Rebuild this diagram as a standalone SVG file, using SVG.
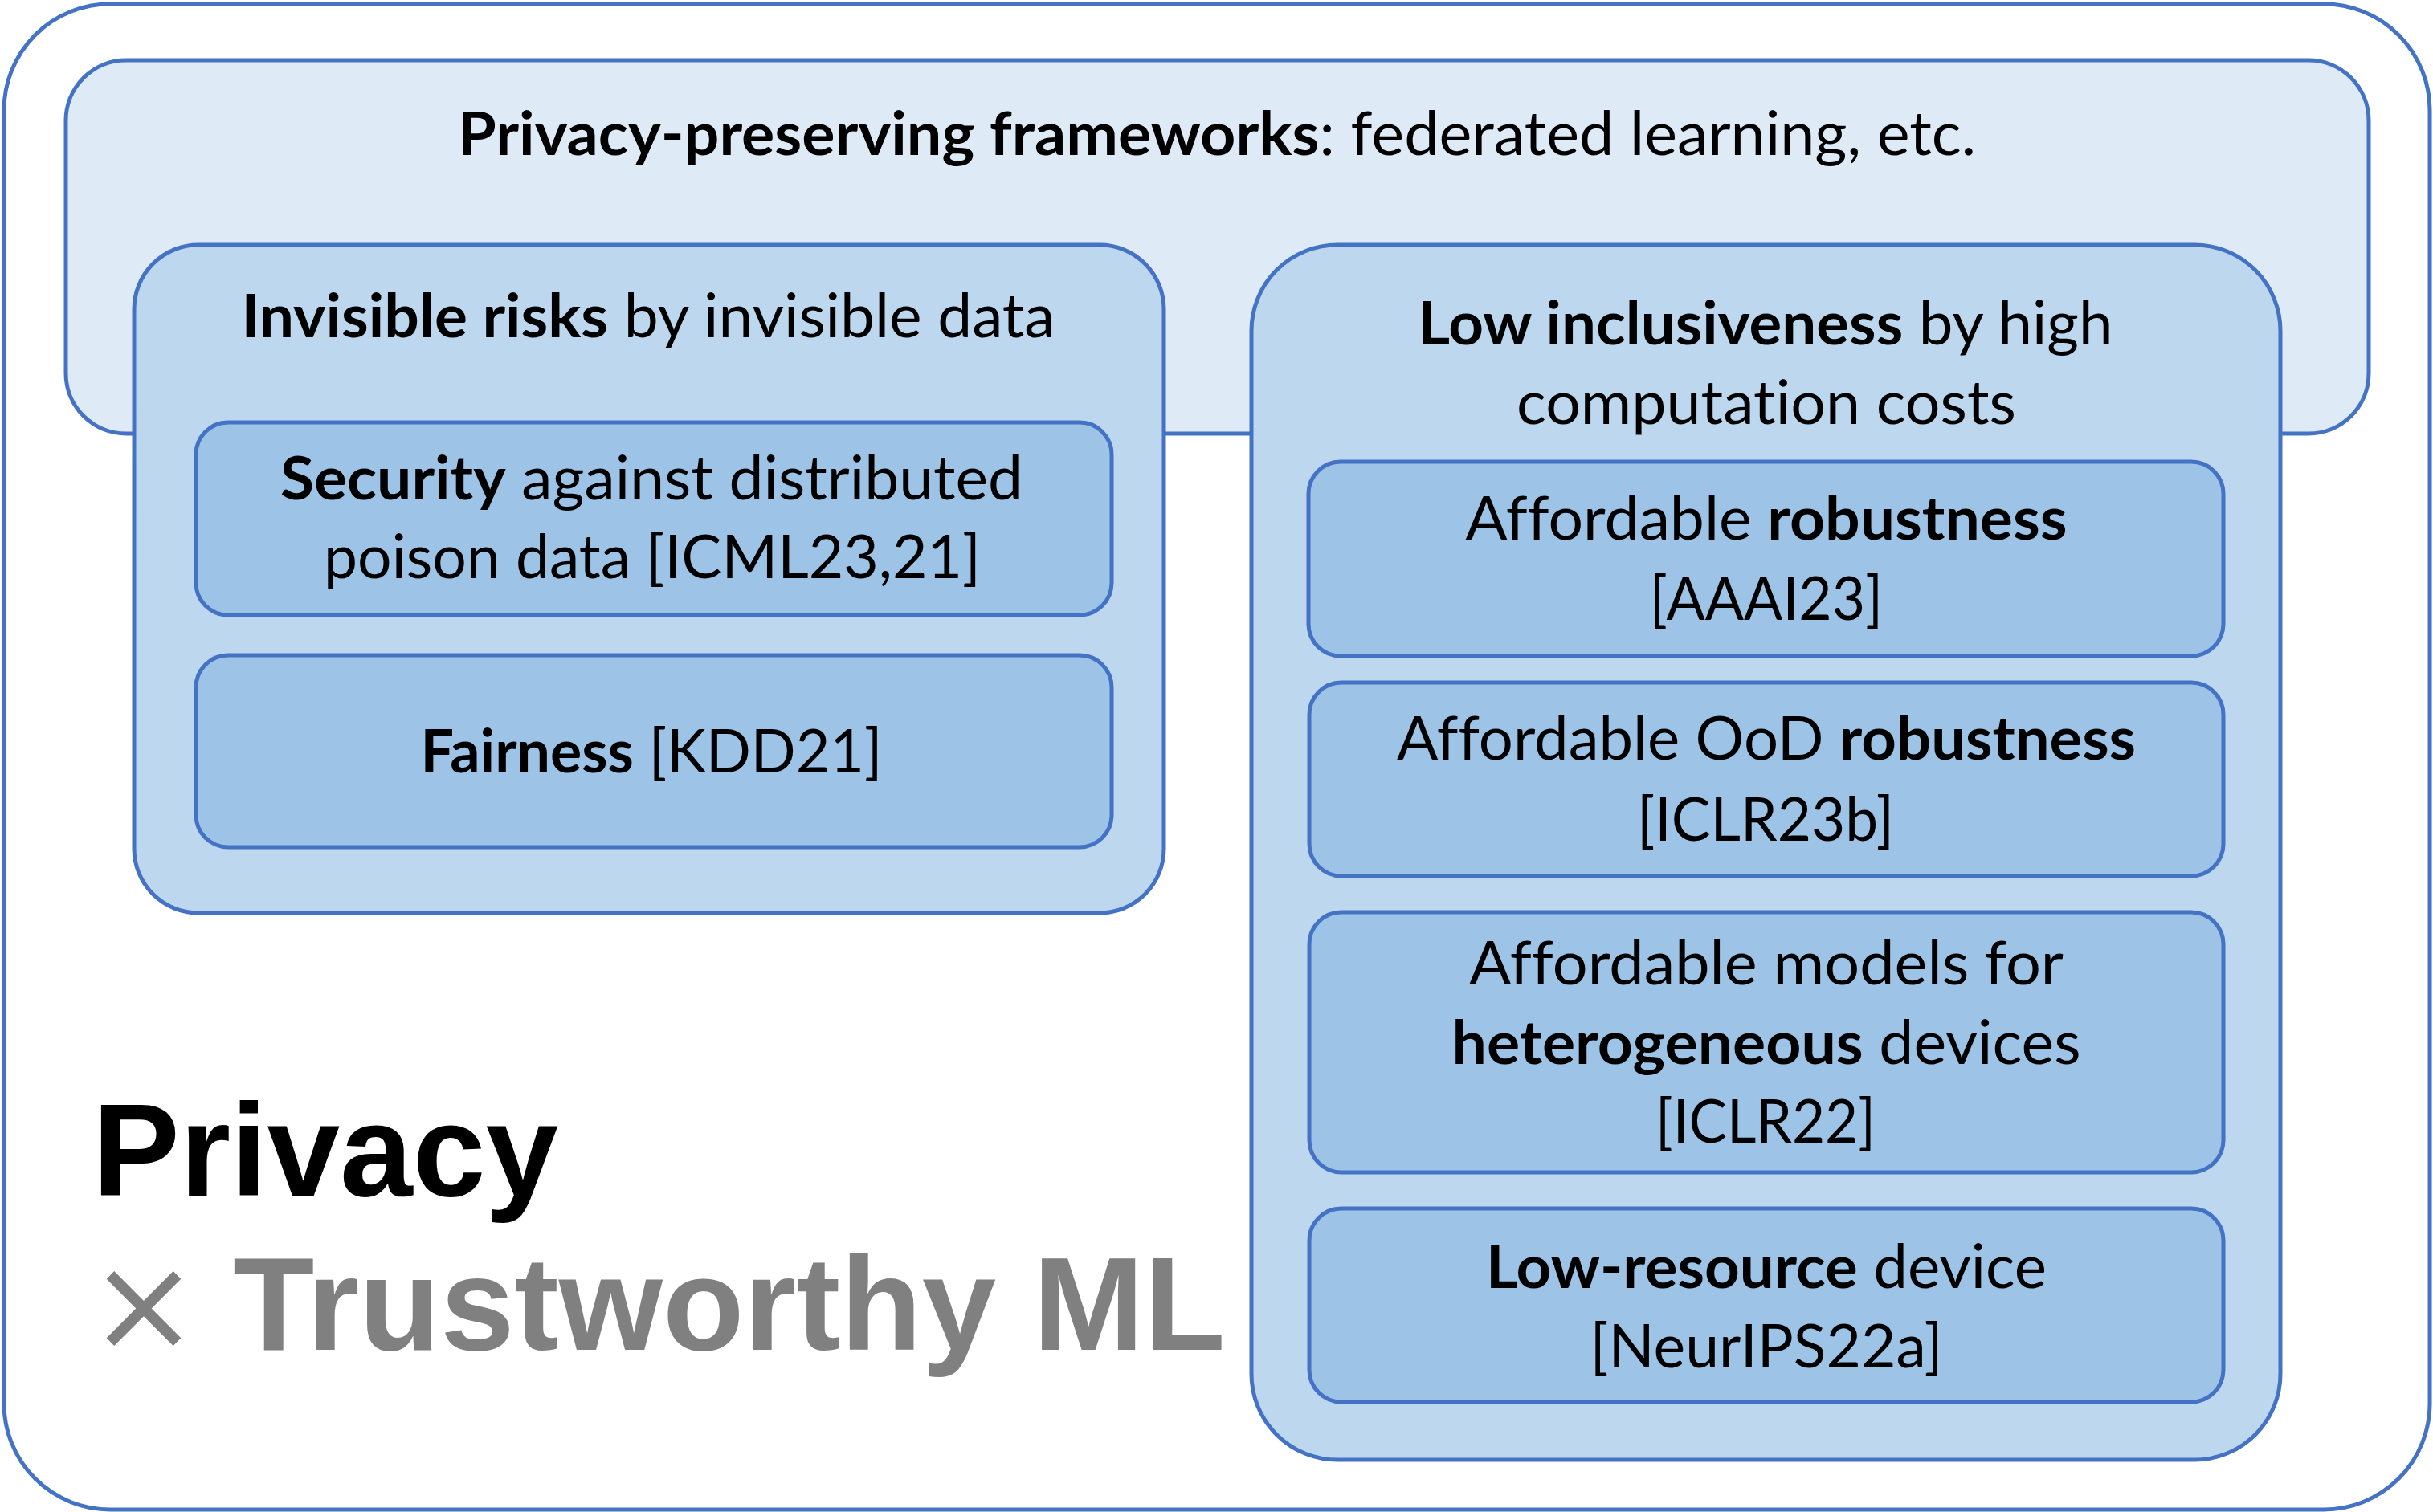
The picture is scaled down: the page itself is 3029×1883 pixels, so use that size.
<svg xmlns="http://www.w3.org/2000/svg" width="3029" height="1883" viewBox="0 0 3029 1883">
<style>
.bx { stroke:#4472C4; stroke-width:5; }
.l0 { fill:#FFFFFF; }
.l1 { fill:#DEEBF7; }
.l2 { fill:#BDD7EE; }
.l3 { fill:#9DC3E6; }
.t { font-family:Lato, "Open Sans", "Liberation Sans", sans-serif; font-size:75px; fill:#000; text-anchor:middle; font-variant-ligatures:none; }
.b { font-weight:bold; }
.big { font-family:"Liberation Sans", Arial, sans-serif; font-weight:bold; font-size:166px; }
</style>
<rect width="3029" height="1883" fill="#FFFFFF"/>
<g id="outer">
  <rect class="bx l0" x="5" y="5" width="3020" height="1875" rx="132" ry="132"/>
</g>
<g id="frameworks">
  <rect class="bx l1" x="82" y="75" width="2867" height="465" rx="75" ry="75"/>
  <text class="t" x="1515" y="193" textLength="1890" lengthAdjust="spacingAndGlyphs"><tspan class="b">Privacy-preserving frameworks</tspan>: federated learning, etc.</text>
</g>
<g id="invisible-risks">
  <rect class="bx l2" x="167" y="305" width="1282" height="832" rx="80" ry="80"/>
  <text class="t" x="807" y="420" textLength="1013" lengthAdjust="spacingAndGlyphs"><tspan class="b">Invisible risks</tspan> by invisible data</text>
</g>
<g id="security">
  <rect class="bx l3" x="244" y="526" width="1140" height="240" rx="40" ry="40"/>
  <text class="t" x="811" y="622" textLength="924" lengthAdjust="spacingAndGlyphs"><tspan class="b">Security</tspan> against distributed</text>
  <text class="t" x="812" y="720" textLength="818" lengthAdjust="spacingAndGlyphs">poison data [ICML23,21]</text>
</g>
<g id="fairness">
  <rect class="bx l3" x="244" y="816" width="1140" height="239" rx="40" ry="40"/>
  <text class="t" x="811" y="962" textLength="575" lengthAdjust="spacingAndGlyphs"><tspan class="b">Fairness</tspan> [KDD21]</text>
</g>
<g id="low-inclusiveness">
  <rect class="bx l2" x="1558" y="305" width="1281" height="1513" rx="107" ry="107"/>
  <text class="t" x="2198" y="429" textLength="865" lengthAdjust="spacingAndGlyphs"><tspan class="b">Low inclusiveness</tspan> by high</text>
  <text class="t" x="2199" y="528" textLength="622" lengthAdjust="spacingAndGlyphs">computation costs</text>
</g>
<g id="robustness">
  <rect class="bx l3" x="1629" y="575" width="1139" height="242" rx="40" ry="40"/>
  <text class="t" x="2199" y="672" textLength="749" lengthAdjust="spacingAndGlyphs">Affordable <tspan class="b">robustness</tspan></text>
  <text class="t" x="2199" y="772" textLength="290" lengthAdjust="spacingAndGlyphs">[AAAI23]</text>
</g>
<g id="ood-robustness">
  <rect class="bx l3" x="1630" y="850" width="1138" height="241" rx="40" ry="40"/>
  <text class="t" x="2199" y="946" textLength="920" lengthAdjust="spacingAndGlyphs">Affordable OoD <tspan class="b">robustness</tspan></text>
  <text class="t" x="2198" y="1047" textLength="320" lengthAdjust="spacingAndGlyphs">[ICLR23b]</text>
</g>
<g id="heterogeneous">
  <rect class="bx l3" x="1630" y="1136" width="1138" height="324" rx="40" ry="40"/>
  <text class="t" x="2199" y="1226" textLength="740" lengthAdjust="spacingAndGlyphs">Affordable models for</text>
  <text class="t" x="2199" y="1325" textLength="783" lengthAdjust="spacingAndGlyphs"><tspan class="b">heterogeneous</tspan> devices</text>
  <text class="t" x="2198" y="1423" textLength="274" lengthAdjust="spacingAndGlyphs">[ICLR22]</text>
</g>
<g id="low-resource">
  <rect class="bx l3" x="1630" y="1505" width="1138" height="241" rx="40" ry="40"/>
  <text class="t" x="2199" y="1604" textLength="698" lengthAdjust="spacingAndGlyphs"><tspan class="b">Low-resource</tspan> device</text>
  <text class="t" x="2199" y="1703" textLength="439" lengthAdjust="spacingAndGlyphs">[NeurIPS22a]</text>
</g>
<g id="heading">
  <text class="big" x="115" y="1489" fill="#000000" style="font-size:163px">Privacy</text>
  <text x="179" y="1681" fill="#808080" font-family="'DejaVu Sans', sans-serif" font-size="164px" text-anchor="middle">×</text>
  <text class="big" x="290" y="1681" fill="#808080">Trustworthy ML</text>
</g>
<g id="connectors"></g>
</svg>
